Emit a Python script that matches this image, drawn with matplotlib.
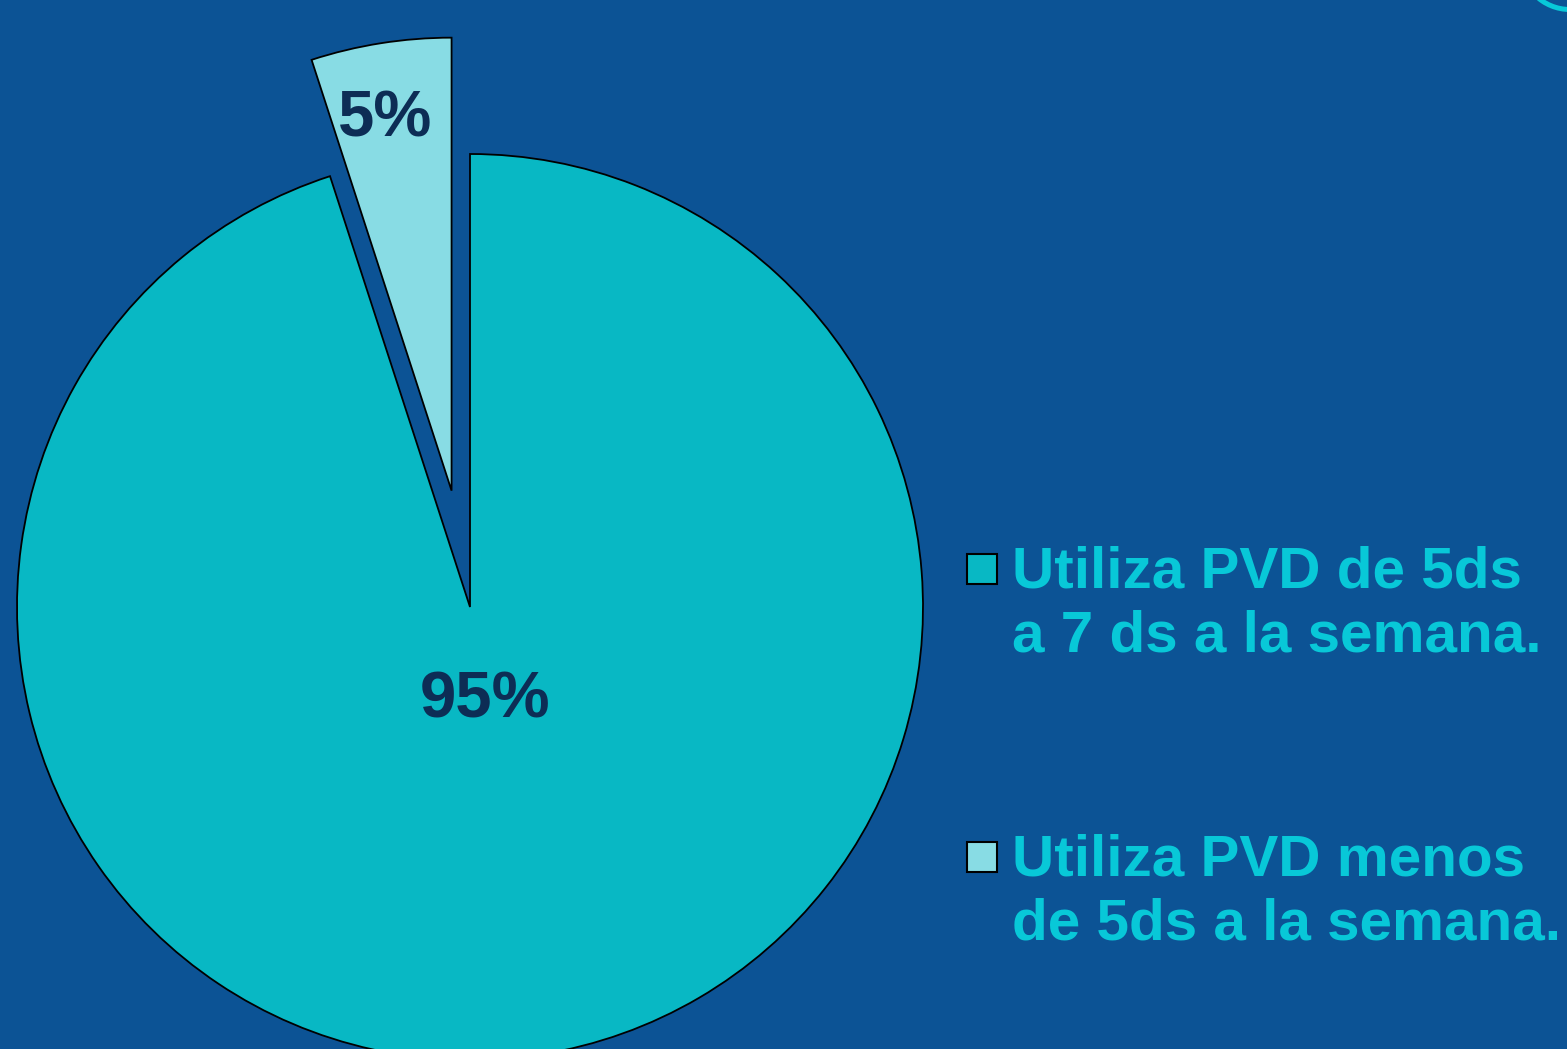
import numpy as np
import matplotlib.pyplot as plt
from matplotlib.patches import Rectangle, Ellipse

# Data
labels = ["Utiliza PVD de 5ds\na 7 ds a la semana.",
          "Utiliza PVD menos\nde 5ds a la semana."]
values = [95, 5]
pct_labels = ["95%", "5%"]

# Colours
bg = "#0c5395"
slice_colors = ["#08b8c4", "#88dce4"]
pct_color = "#0d2d55"
legend_color = "#08c8d8"

W, H = 1567, 1049
fig = plt.figure(figsize=(W / 100, H / 100), dpi=100, facecolor=bg)

# Pie axes: centre (470, 607) px, radius 453 px
cx, cy, r = 470, 607, 453
lim = 1.4
size = 2 * lim * r
ax = fig.add_axes([(cx - lim * r) / W, (H - cy - lim * r) / H, size / W, size / H])
ax.set_facecolor(bg)

wedges, _ = ax.pie(values, colors=slice_colors, startangle=90, counterclock=False,
                   explode=[0, 0.26], radius=1,
                   wedgeprops=dict(edgecolor="black", linewidth=1.3))
ax.set_xlim(-lim, lim)
ax.set_ylim(-lim, lim)
ax.set_aspect("equal")
ax.axis("off")

# Percentage labels, placed inside each wedge
pct_dist = [0.21, 0.83]
pct_size = [47, 47]
pct_dx = [0.0, -0.017]   # small nudges (radius units)
for w, txt, d, fs, dx in zip(wedges, pct_labels, pct_dist, pct_size, pct_dx):
    mid = np.deg2rad((w.theta1 + w.theta2) / 2)
    x0, y0 = w.center
    ax.text(x0 + d * np.cos(mid) + dx, y0 + d * np.sin(mid), txt,
            ha="center", va="center", fontsize=fs, fontweight="bold",
            color=pct_color, family="Liberation Sans")

# Legend, drawn by hand (baseline of first line of each entry)
leg_baselines = [586, 874]
line_gap = 66
for lab, col, yb in zip(labels, slice_colors, leg_baselines):
    fig.patches.append(Rectangle((967 / W, (H - yb + 2) / H), 30 / W, 30 / H,
                                 transform=fig.transFigure, facecolor=col,
                                 edgecolor="black", linewidth=1.5))
    n = lab.count("\n")
    fig.text(1012 / W, (H - yb - n * line_gap) / H, lab, ha="left", va="baseline",
             fontsize=42, fontweight="bold", color=legend_color,
             family="Liberation Sans", linespacing=1.25)

# Decorative ring in the top-right corner
fig.patches.append(Ellipse((1570 / W, (H + 40) / H), 2 * 49.5 / W, 2 * 49.5 / H,
                           transform=fig.transFigure, facecolor="none",
                           edgecolor="#08c8d8", linewidth=3.6))

fig.savefig("out.png", dpi=100, facecolor=bg)
